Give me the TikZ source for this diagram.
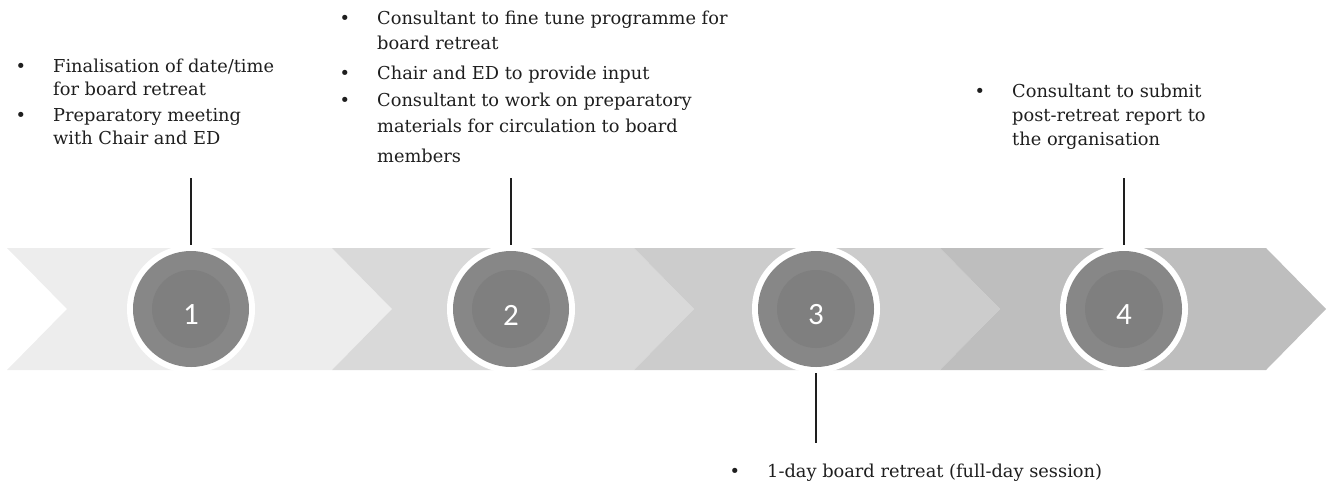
\documentclass[tikz,border=0pt]{standalone}
\usepackage{fontspec}
\setmainfont{DejaVu Serif}
\newfontfamily\numfont{Carlito}
\definecolor{segA}{HTML}{EDEDED}
\definecolor{segB}{HTML}{D9D9D9}
\definecolor{segC}{HTML}{CCCCCC}
\definecolor{segD}{HTML}{BEBEBE}
\definecolor{discout}{HTML}{878787}
\definecolor{discin}{HTML}{7F7F7F}
\definecolor{ink}{HTML}{1E1E1E}
\newcommand{\blt}{\leavevmode\llap{\textbullet\hspace{27pt}}}
\newcommand{\blk}[2]{\parbox[t]{420pt}{\raggedright\fontsize{17.8}{#1}\selectfont #2}}
\begin{document}
\begin{tikzpicture}[x=1pt,y=-1pt,
  ring/.style={circle,fill=white,minimum size=128pt,inner sep=0pt},
  disc/.style={circle,fill=discout,minimum size=116pt,inner sep=0pt},
  core/.style={circle,fill=discin,minimum size=78pt,inner sep=0pt},
  num/.style={text=white,font=\numfont\fontsize{31}{31}\selectfont,inner sep=0pt},
  txt/.style={anchor=base west,inner sep=0pt,text=ink},
  stem/.style={draw=ink,line width=1.1pt}]
\useasboundingbox (0,0) rectangle (1328,493);
% chevron band
\fill[segA] (7,248) -- (332,248) -- (392,309) -- (332,370) -- (7,370) -- (67,309) -- cycle;
\fill[segB] (332,248) -- (634,248) -- (694,309) -- (634,370) -- (332,370) -- (392,309) -- cycle;
\fill[segC] (634,248) -- (940,248) -- (1000,309) -- (940,370) -- (634,370) -- (694,309) -- cycle;
\fill[segD] (940,248) -- (1266,248) -- (1326,309) -- (1266,370) -- (940,370) -- (1000,309) -- cycle;
% circles
\foreach \i/\cx in {1/191,2/511,3/816,4/1124}{
  \node[ring] (c\i) at (\cx,309) {};
  \node[disc] (d\i) at (c\i) {};
  \node[core] (k\i) at (c\i) {};
  \node[num] (n\i) at ([yshift=-6pt]c\i.center) {\i};
}
% stems
\coordinate (e1) at (191,178);
\coordinate (e2) at (511,178);
\coordinate (e3) at (816,443);
\coordinate (e4) at (1124,178);
\draw[stem] (c1.north) -- (e1);
\draw[stem] (c2.north) -- (e2);
\draw[stem] (c3.south) -- (e3);
\draw[stem] (c4.north) -- (e4);
% texts
\node[txt] (t1) at (53,72) {\blk{23}{\blt Finalisation of date/time\\for board retreat\\[3pt]\blt Preparatory meeting\\with Chair and ED}};
\node[txt] (t2) at (377,24) {\blk{25}{\blt Consultant to fine tune programme for\\board retreat\\[5pt]\blt Chair and ED to provide input\\[2pt]\blt Consultant to work on preparatory\\[1pt]materials for circulation to board\\[5pt]members}};
\node[txt] (t3) at (767,477) {\blk{23}{\blt 1-day board retreat (full-day session)}};
\node[txt] (t4) at (1012,97) {\blk{24}{\blt Consultant to submit\\post-retreat report to\\the organisation}};
\end{tikzpicture}
\end{document}
